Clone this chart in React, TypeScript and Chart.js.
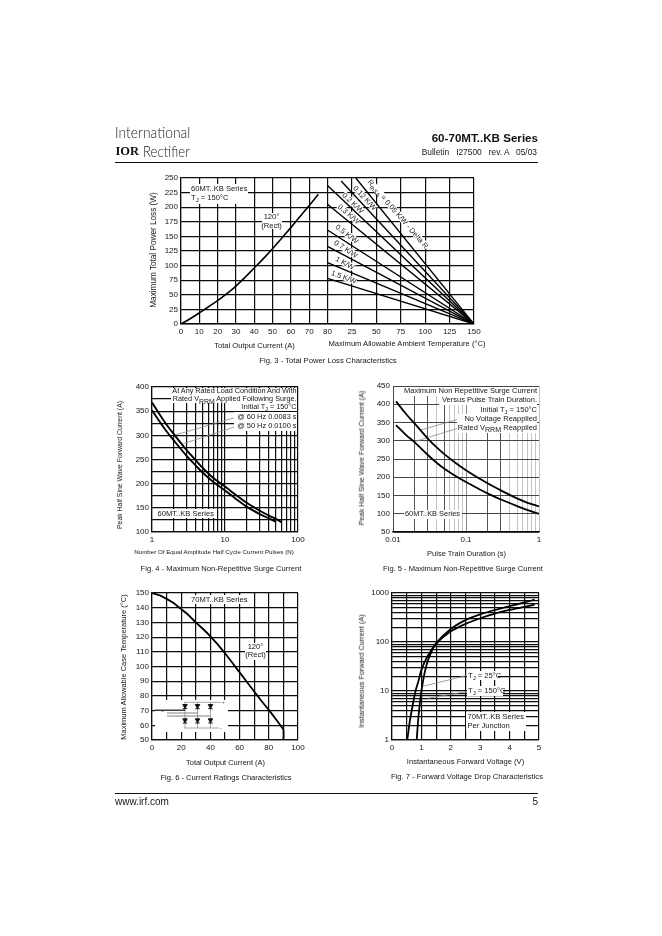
import React, { useEffect, useRef } from "react";
import { Chart, registerables } from "chart.js";

Chart.register(...registerables);

const FONT = '"Liberation Sans", Arial, sans-serif';
const INK = "#161616";
const GRID = "#0c0c0c";

// Fig. 3
const LOSS_CURRENT = [0, 5, 10, 15, 20, 25, 30, 35, 40, 45, 50, 55, 60, 65, 70, 75];
const LOSS_POWER = [0, 9, 19, 29.5, 40, 52, 65, 80, 96, 112, 129, 147, 165, 184, 203, 222];
const RTH_NAMES = ["0.05 K/W", "0.12 K/W", "0.2 K/W", "0.3 K/W", "0.5 K/W", "0.7 K/W", "1 K/W", "1.5 K/W"];
const RTH_START_TEMP = [29, 14, 0, 0, 0, 0, 0, 0];
const RTH_START_POWER = [250, 245, 237, 205, 161, 133, 105, 78];
const RTH_END_TEMP = 150;
const RTH_END_POWER = 0;
const F3_CURRENT_TICKS = [0, 10, 20, 30, 40, 50, 60, 70, 80];
const F3_TEMP_TICKS = [25, 50, 75, 100, 125, 150];

// Fig. 4
const F4_UPPER_N = [1, 1.5, 2, 3, 4, 5, 7, 10, 14, 20, 30, 40, 50, 60];
const F4_UPPER_A = [368, 327, 302, 269, 248, 232, 211, 194, 177, 160, 144, 134, 127, 120];
const F4_LOWER_N = [1, 1.5, 2, 3, 4, 5, 7, 10, 14, 20, 30, 40, 50];
const F4_LOWER_A = [352, 313, 289, 257, 237, 222, 203, 186, 169, 152, 137, 128, 121];
const F4_LEAD_60 = [[14, 337], [2, 300]];
const F4_LEAD_50 = [[14, 318], [2.7, 283]];
const LOG_X_TICKS = [1, 2, 3, 4, 5, 6, 7, 8, 9, 10, 20, 30, 40, 50, 60, 70, 80, 90, 100];

// Fig. 5
const F5_T = [0.011, 0.015, 0.02, 0.03, 0.04, 0.05, 0.07, 0.1, 0.15, 0.2, 0.3, 0.5, 0.7, 1];
const F5_NO_VOLT = [408, 374, 346, 306, 281, 264, 241, 219, 197, 183, 164, 142, 130, 120];
const F5_RATED = [343, 316, 295, 261, 239, 224, 205, 187, 168, 155, 139, 121, 110, 100];
const F5_LEAD_A = [[0.0786, 359], [0.0236, 329]];
const F5_LEAD_B = [[0.0802, 335], [0.0191, 297]];
const F5_X_TICKS = [0.01, 0.02, 0.03, 0.04, 0.05, 0.06, 0.07, 0.08, 0.09, 0.1, 0.2, 0.3, 0.4, 0.5, 0.6, 0.7, 0.8, 0.9, 1];

// Fig. 6
const F6_I = [0, 5, 10, 15, 20, 25, 30, 35, 40, 45, 50, 55, 60, 65, 70, 75, 80, 85, 90, 90];
const F6_T = [150, 148.5, 146, 143, 139, 135, 130, 125.5, 120.5, 115, 109, 102.5, 96, 89.5, 83, 76.5, 70.5, 64, 57, 50];

// Fig. 7
const F7_V_HOT = [0.52, 0.6, 0.7, 0.8, 0.9, 1, 1.2, 1.5, 2, 2.5, 3, 3.5, 4, 4.5, 4.85];
const F7_I_HOT = [1, 2.3, 5, 10, 16, 27, 50, 92, 165, 235, 305, 380, 450, 520, 580];
const F7_V_COLD = [0.84, 0.9, 1, 1.1, 1.2, 1.35, 1.5, 2, 2.5, 3, 3.5, 4, 4.5, 4.85];
const F7_I_COLD = [1, 3, 10, 22, 38, 65, 95, 185, 280, 365, 450, 540, 640, 730];
const F7_LEAD_25 = [[2.53, 20.6], [1.02, 12.3]];
const F7_LEAD_150 = [[2.53, 9.7], [1.22, 7.1]];
const F7_Y_TICKS = [1, 2, 3, 4, 5, 6, 7, 8, 9, 10, 20, 30, 40, 50, 60, 70, 80, 90, 100, 200, 300, 400, 500, 600, 700, 800, 900, 1000];

const zip = (xs: number[], ys: number[]) => xs.map((x, i) => ({ x, y: ys[i] }));
const pairs = (p: number[][]) => p.map(([x, y]) => ({ x, y }));
const curve = (data: any[], width = 1.9, extra: any = {}) => ({
  data, borderColor: "#000", borderWidth: width, pointRadius: 0, fill: false,
  tension: 0.35, ...extra,
});
const leader = (data: any[]) => ({ data, borderColor: "#8a8a8a", borderWidth: 0.8, pointRadius: 0, fill: false, order: 5 });

const range = (a: number, b: number, s: number) => { const r: number[] = []; for (let v = a; v <= b + 1e-9; v += s) r.push(v); return r; };
const useTicks = (vals: number[]) => (s: any) => { s.ticks = vals.map((value) => ({ value })); };
const tickFont = { family: FONT, size: 8 };
const gridBase = { color: GRID, lineWidth: 1.2, drawTicks: false };
const borderBase = { color: GRID, width: 1.2 };

function axis(extra: any) {
  return {
    grid: gridBase,
    border: borderBase,
    ...extra,
    ticks: { color: INK, font: tickFont, padding: 3, autoSkip: false, maxRotation: 0, ...(extra.ticks || {}) },
  };
}

const PAD_L = 40, PAD_T = 10, PAD_R = 16, PAD_B = 20;

function PlotChart({ left, top, width, height, build }: any) {
  const ref = useRef<HTMLCanvasElement | null>(null);
  useEffect(() => {
    const cfg = build();
    const scales = cfg.scales;
    for (const k of Object.keys(scales)) {
      const prev = scales[k].afterFit;
      if (prev) continue;
      scales[k].afterFit = k.startsWith("y") ? (s: any) => { s.width = PAD_L; } : (s: any) => { s.height = PAD_B; };
    }
    const chart = new Chart(ref.current as HTMLCanvasElement, {
      type: "line",
      data: { datasets: cfg.datasets },
      options: {
        animation: false,
        responsive: false,
        layout: { padding: { top: PAD_T, right: PAD_R, left: 0, bottom: 0 } },
        plugins: { legend: { display: false }, title: { display: false }, tooltip: { enabled: false } },
        scales,
      } as any,
    });
    return () => chart.destroy();
  }, []);
  return (
    <canvas
      ref={ref}
      width={width + PAD_L + PAD_R}
      height={height + PAD_T + PAD_B}
      style={{ position: "absolute", left: left - PAD_L, top: top - PAD_T, display: "block" }}
    />
  );
}

function T({ x, y, anchor = "l", size = 7.6, rot = 0, sx = 1, bg = false, bold = false, family = FONT, children, weight, color = INK, pad = 1, lh }: any) {
  const tx = anchor === "l" ? "0" : anchor === "r" ? "-100%" : "-50%";
  return (
    <div
      style={{
        position: "absolute", left: x, top: y, whiteSpace: "pre", fontFamily: family, fontSize: size, lineHeight: `${lh ?? size + 1}px`,
        fontWeight: weight ?? (bold ? 700 : 400), color, background: bg ? "#fff" : "transparent",
        padding: bg ? `0 ${pad}px` : 0,
        transform: `translate(${tx}, -50%) rotate(${rot}deg) scaleX(${sx})`, transformOrigin: anchor === "c" ? "50% 50%" : anchor === "r" ? "100% 50%" : "0 50%",
      }}
    >
      {children}
    </div>
  );
}

const Sub = ({ children, k = 0.8 }: any) => (
  <span style={{ fontSize: `${k}em`, position: "relative", top: "0.38em", lineHeight: 0 }}>{children}</span>
);

const Box = ({ x, y, w, h }: any) => <div style={{ position: "absolute", left: x, top: y, width: w, height: h, background: "#fff" }} />;

function Fig6Inset() {
  const xs = [185, 197.5, 210.5];
  const gray = "#8f8f8f";
  return (
    <svg width={73} height={32} viewBox="155 700 73 32" style={{ position: "absolute", left: 155, top: 700 }}>
      <rect x={155} y={700} width={73} height={32} fill="#fff" />
      <path d={`M184 702.3H221M184 728H219M${xs[0]} 702.3V728M${xs[1]} 702.3V728M${xs[2]} 702.3V728`} stroke={gray} strokeWidth={0.8} fill="none" />
      <path d={`M155 710.2H${xs[0]}`} stroke="#0c0c0c" strokeWidth={1.2} fill="none" />
      <path d={`M167 713H${xs[1]}M167 716H${xs[2]}`} stroke="#666" strokeWidth={0.8} fill="none" />
      {xs.flatMap((x) =>
        [706.7, 721].map((y) => (
          <path key={`${x}-${y}`} d={`M${x - 2.2} ${y - 2.2}h4.4l-2.2 4zM${x - 2.2} ${y + 2}h4.4`} fill="#111" stroke="#111" strokeWidth={1} />
        ))
      )}
      <text x={222} y={704} fontSize={5} fill="#555" fontFamily={FONT}>+</text>
      <text x={220} y={730} fontSize={5} fill="#555" fontFamily={FONT}>-</text>
      <text x={161} y={713} fontSize={5} fill="#555" fontFamily={FONT}>~</text>
    </svg>
  );
}

export default function App() {
  const kw = { anchor: "c", size: 7.4, bg: true, lh: 7, pad: 0.5 };
  return (
    <div style={{ position: "absolute", left: 0, top: 0, width: 662, height: 936, background: "#fff", overflow: "hidden", filter: "grayscale(1) blur(0.3px)" }}>
      {/* header */}
      <T x={115} y={133} size={16.5} sx={0.84} family='"Lato", "Open Sans", sans-serif' weight={300} color="#222">International</T>
      <T x={115.5} y={151.5} size={12.5} bold family='"Liberation Serif", serif' color="#111">IOR</T>
      <T x={143} y={150} size={16} sx={0.82} family='"Lato", "Open Sans", sans-serif' weight={300} color="#222">Rectifier</T>
      <T x={538} y={137.5} anchor="r" size={11.6} bold color="#111">60-70MT..KB Series</T>
      <T x={537} y={153} anchor="r" size={8.4}>{"Bulletin   I27500   rev. A   05/03"}</T>
      <div style={{ position: "absolute", left: 115, top: 162, width: 423, height: 1, background: "#111" }} />

      {/* Fig. 3 */}
      <PlotChart
        left={181} top={178} width={293} height={146}
        build={() => ({
          datasets: [
            curve(zip(LOSS_CURRENT, LOSS_POWER), 1.6, { xAxisID: "x", yAxisID: "y" }),
            ...RTH_NAMES.map((name, i) => ({
              label: name,
              ...curve([{ x: RTH_START_TEMP[i], y: RTH_START_POWER[i] }, { x: RTH_END_TEMP, y: RTH_END_POWER }], 1.4, { xAxisID: "x2", yAxisID: "y", tension: 0 }),
            })),
          ],
          scales: {
            x: axis({
              type: "linear", min: 0, max: 160, weight: 0, position: "bottom", afterBuildTicks: useTicks(F3_CURRENT_TICKS),
              afterFit: (s: any) => { s.height = 0; s._computeLabelArea = () => null; },
            }),
            x2: axis({ type: "linear", min: -150, max: 150, weight: 1, position: "bottom", afterBuildTicks: useTicks(F3_TEMP_TICKS) }),
            y: axis({ type: "linear", min: 0, max: 250, afterBuildTicks: useTicks(range(0, 250, 25)) }),
          },
        })}
      />
      <Box x={190} y={184} w={58} h={20} />
      <T x={191} y={188.5}>60MT..KB Series</T>
      <T x={191} y={197.5}>T<Sub>J</Sub> = 150°C</T>
      <Box x={261.5} y={213} w={20} h={16} />
      <T x={271.5} y={217} anchor="c">120°</T>
      <T x={271.5} y={225.7} anchor="c">(Rect)</T>
      <T x={398} y={214} rot={49} {...kw}>R<Sub>thSA</Sub> = 0.05 K/W - Delta R</T>
      <T x={365} y={197.5} rot={47} {...kw}>0.12 K/W</T>
      <T x={353.3} y={202.7} rot={44} {...kw}>0.2 K/W</T>
      <T x={349.3} y={214.3} rot={40} {...kw}>0.3 K/W</T>
      <T x={346.7} y={234.3} rot={37} {...kw}>0.5 K/W</T>
      <T x={345.7} y={249.3} rot={33} {...kw}>0.7 K/W</T>
      <T x={345} y={262.7} rot={28} {...kw}>1 K/W</T>
      <T x={344} y={276.7} rot={20} {...kw}>1.5 K/W</T>
      <T x={254.5} y={346} anchor="c">Total Output Current (A)</T>
      <T x={407} y={344} anchor="c">Maximum Allowable Ambient Temperature (°C)</T>
      <T x={153.5} y={250} anchor="c" rot={-90} size={8.2}>Maximum Total Power Loss (W)</T>
      <T x={328} y={361} anchor="c" size={7.7}>Fig. 3 - Total Power Loss Characteristics</T>

      {/* Fig. 4 */}
      <PlotChart
        left={152} top={387} width={146} height={145}
        build={() => ({
          datasets: [
            curve(zip(F4_UPPER_N, F4_UPPER_A), 1.9),
            curve(zip(F4_LOWER_N, F4_LOWER_A), 1.9),
            leader(pairs(F4_LEAD_60)),
            leader(pairs(F4_LEAD_50)),
          ],
          scales: {
            x: axis({
              type: "logarithmic", min: 1, max: 100, afterBuildTicks: useTicks(LOG_X_TICKS),
              ticks: { callback: (v: number) => ([1, 10, 100].includes(v) ? String(v) : "") },
            }),
            y: axis({
              type: "linear", min: 100, max: 400, afterBuildTicks: useTicks(range(100, 400, 25)),
              ticks: { callback: (v: number) => (v % 50 === 0 ? String(v) : "") },
            }),
          },
        })}
      />
      <Box x={171} y={388} w={125.5} h={15} />
      <Box x={240} y={403} w={56.5} h={8} />
      <Box x={234} y={412} w={62.5} h={19} />
      <T x={296.5} y={391} anchor="r" size={7.25}>At Any Rated Load Condition And With</T>
      <T x={296.5} y={399} anchor="r" size={7.25}>Rated V<Sub k={0.95}>RRM</Sub> Applied Following Surge.</T>
      <T x={296.5} y={406.8} anchor="r" size={7.25}>Initial T<Sub>J</Sub> = 150°C</T>
      <T x={296.5} y={417} anchor="r" size={7.4}>@ 60 Hz 0.0083 s</T>
      <T x={296.5} y={426.3} anchor="r" size={7.4}>@ 50 Hz 0.0100 s</T>
      <Box x={156} y={509} w={59} h={9} />
      <T x={157.5} y={513.5}>60MT..KB Series</T>
      <T x={214} y={551.7} anchor="c" size={6.2}>Number Of Equal Amplitude Half Cycle Current Pulses (N)</T>
      <T x={120} y={465} anchor="c" rot={-90} size={6.9}>Peak Half Sine Wave Forward Current (A)</T>
      <T x={221} y={569} anchor="c">Fig. 4 - Maximum Non-Repetitive Surge Current</T>

      {/* Fig. 5 */}
      <PlotChart
        left={393} top={386} width={146} height={146}
        build={() => ({
          datasets: [curve(zip(F5_T, F5_NO_VOLT), 1.8), curve(zip(F5_T, F5_RATED), 1.8), leader(pairs(F5_LEAD_A)), leader(pairs(F5_LEAD_B))],
          scales: {
            x: axis({
              type: "logarithmic", min: 0.01, max: 1, afterBuildTicks: useTicks(F5_X_TICKS),
              grid: {
                drawTicks: false, lineWidth: 1,
                color: (c: any) => {
                  const m = Math.round((c.tick?.value ?? 0) * 1000) / 1000;
                  if ([0.02, 0.03, 0.05, 0.2, 0.3].includes(m)) return "#555";
                  if (m === 0.1) return "#888";
                  return "#c4c4c4";
                },
              },
              ticks: { callback: (v: number) => ({ 0.01: "0.01", 0.1: "0.1", 1: "1" } as any)[v] ?? "" },
            }),
            y: axis({ type: "linear", min: 50, max: 450, afterBuildTicks: useTicks(range(50, 450, 50)), grid: { drawTicks: false, color: "#444", lineWidth: 1 }, border: { color: "#444", width: 1 } }),
          },
        })}
      />
      <Box x={402} y={387} w={135} h={8.5} />
      <Box x={439} y={396} w={98} h={8.5} />
      <Box x={476} y={405} w={61} h={9} />
      <Box x={457} y={414} w={80} h={19} />
      <T x={537} y={391} anchor="r" size={7.5}>Maximum Non Repetitive Surge Current</T>
      <T x={537} y={400.3} anchor="r" size={7.5}>Versus Pulse Train Duration.</T>
      <T x={537} y={409.7} anchor="r" size={7.5}>Initial T<Sub>J</Sub> = 150°C</T>
      <T x={537} y={418.7} anchor="r" size={7.5}>No Voltage Reapplied</T>
      <T x={537} y={427.7} anchor="r" size={7.5}>Rated V<Sub k={0.95}>RRM</Sub> Reapplied</T>
      <Box x={404} y={510} w={58} h={9} />
      <T x={405} y={514.3} size={7.4}>60MT..KB Series</T>
      <T x={466.5} y={554} anchor="c" size={7.5}>Pulse Train Duration (s)</T>
      <T x={362} y={458} anchor="c" rot={-90} size={7.25}>Peak Half Sine Wave Forward Current (A)</T>
      <T x={463} y={569} anchor="c" size={7.55}>Fig. 5 - Maximum Non-Repetitive Surge Current</T>

      {/* Fig. 6 */}
      <PlotChart
        left={152} top={593} width={146} height={147}
        build={() => ({
          datasets: [curve(zip(F6_I, F6_T), 1.8, { tension: 0.1 })],
          scales: {
            x: axis({
              type: "linear", min: 0, max: 100, afterBuildTicks: useTicks(range(0, 100, 10)),
              ticks: { callback: (v: number) => (v % 20 === 0 ? String(v) : "") },
            }),
            y: axis({ type: "linear", min: 50, max: 150, afterBuildTicks: useTicks(range(50, 150, 10)) }),
          },
        })}
      />
      <Box x={190} y={595} w={58} h={9} />
      <T x={191} y={599.5}>70MT..KB Series</T>
      <Box x={245} y={643} w={21} h={17} />
      <T x={255.5} y={647.3} anchor="c">120°</T>
      <T x={255.5} y={655.3} anchor="c">(Rect)</T>
      <Fig6Inset />
      <T x={225.5} y={763} anchor="c" size={7.45}>Total Output Current (A)</T>
      <T x={124} y={666.7} anchor="c" rot={-90} size={7.5}>Maximum Allowable Case Temperature (°C)</T>
      <T x={226} y={778} anchor="c">Fig. 6 - Current Ratings Characteristics</T>

      {/* Fig. 7 */}
      <PlotChart
        left={392} top={593} width={147} height={147}
        build={() => ({
          datasets: [curve(zip(F7_V_HOT, F7_I_HOT), 1.8, { tension: 0.25 }), curve(zip(F7_V_COLD, F7_I_COLD), 1.8, { tension: 0.25 }), leader(pairs(F7_LEAD_25)), leader(pairs(F7_LEAD_150))],
          scales: {
            x: axis({
              type: "linear", min: 0, max: 5, afterBuildTicks: useTicks(range(0, 5, 0.5)),
              ticks: { callback: (v: number) => (Number.isInteger(v) ? String(v) : "") },
            }),
            y: axis({
              type: "logarithmic", min: 1, max: 1000, afterBuildTicks: useTicks(F7_Y_TICKS),
              ticks: { callback: (v: number) => ([1, 10, 100, 1000].includes(v) ? String(v) : "") },
            }),
          },
        })}
      />
      <Box x={467} y={671} w={31} h={9} />
      <Box x={467} y={686} w={36} h={10} />
      <Box x={466} y={712} w={60} h={19} />
      <T x={468} y={675.7}>T<Sub>J</Sub> = 25°C</T>
      <T x={468} y={691}>T<Sub>J</Sub> = 150°C</T>
      <T x={467.5} y={716.7}>70MT..KB Series</T>
      <T x={467.5} y={726.3}>Per Junction</T>
      <T x={465.5} y={761.7} anchor="c">Instantaneous Forward Voltage (V)</T>
      <T x={361.7} y={670.7} anchor="c" rot={-90} size={7.35}>Instantaneous Forward Current (A)</T>
      <T x={467} y={777} anchor="c">Fig. 7 - Forward Voltage Drop Characteristics</T>

      {/* footer */}
      <div style={{ position: "absolute", left: 115, top: 793, width: 423, height: 1, background: "#111" }} />
      <T x={115} y={801} size={10}>www.irf.com</T>
      <T x={538} y={801} anchor="r" size={10}>5</T>
    </div>
  );
}
